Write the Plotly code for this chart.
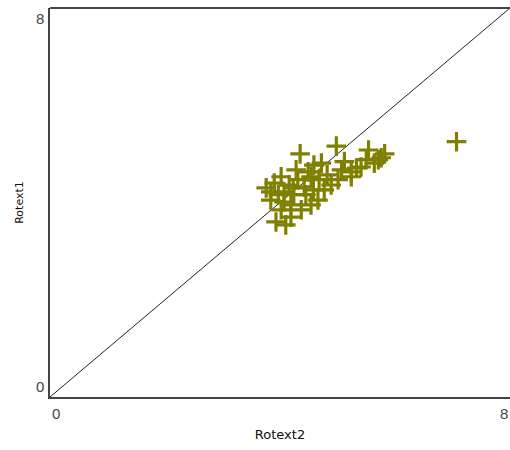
import plotly.graph_objects as go

# Rotext2 (x) vs Rotext1 (y) scores
rotext2 = [7.07, 4.35, 4.98, 5.54, 5.82, 5.71, 5.12, 4.72, 4.59, 5.41, 5.24, 5.01,
           4.89, 4.02, 3.90, 3.84, 4.07, 4.24, 4.42, 4.54, 4.77, 4.66, 4.54, 4.37,
           4.19, 4.02, 3.93, 4.07, 4.31, 4.49, 5.24, 5.64, 5.76, 4.16, 3.97, 3.76,
           4.28, 4.68, 4.82, 5.07, 5.33, 5.50, 4.19, 4.45, 4.10, 3.84, 4.23, 4.58]
rotext1 = [5.25, 5.00, 5.16, 5.08, 5.00, 4.88, 4.84, 4.81, 4.77, 4.73, 4.53, 4.47,
           4.36, 4.53, 4.40, 4.22, 4.22, 4.16, 4.32, 4.53, 4.26, 4.05, 3.95, 3.85,
           3.70, 3.85, 3.60, 4.01, 4.47, 4.63, 4.63, 4.81, 4.92, 4.36, 4.16, 4.30,
           4.67, 4.47, 4.57, 4.67, 4.71, 4.88, 3.95, 4.16, 3.54, 4.05, 4.30, 4.26]

axis_min, axis_max = 0, 8
diagonal = [axis_min, axis_max]

fig = go.Figure()

# identity line
fig.add_trace(go.Scatter(
    x=diagonal, y=diagonal, mode="lines",
    line=dict(color="#222222", width=1), hoverinfo="skip", showlegend=False,
))

fig.add_trace(go.Scatter(
    x=rotext2, y=rotext1, mode="markers",
    marker=dict(symbol="cross-thin", size=14,
                line=dict(color="#808000", width=3.2)),
    showlegend=False,
))

tick_font = dict(family="Liberation Sans, Arial, sans-serif", size=15, color="#444444")
xtitle_font = dict(family="DejaVu Sans, sans-serif", size=13, color="#111111")
ytitle_font = dict(family="DejaVu Sans, sans-serif", size=11, color="#111111")

fig.update_layout(
    width=510, height=450,
    margin=dict(l=50, r=0, t=8, b=53),
    paper_bgcolor="white", plot_bgcolor="white",
    xaxis=dict(range=[axis_min, axis_max], showgrid=False, zeroline=False,
               showticklabels=False, ticks="",
               showline=True, linecolor="#444444", linewidth=2,
               title=dict(text="Rotext2", font=xtitle_font, standoff=32)),
    yaxis=dict(range=[axis_min, axis_max], showgrid=False, zeroline=False,
               showticklabels=False, ticks="",
               showline=True, linecolor="#444444", linewidth=2,
               title=dict(text="Rotext1", font=ytitle_font, standoff=22)),
)

# top border of the frame
fig.add_shape(type="line", xref="paper", yref="paper", x0=0, x1=1, y0=1, y1=1,
              line=dict(color="#444444", width=2))

# end labels sit just inside the axis range
for v, ya in [(axis_min, "bottom"), (axis_max, "top")]:
    fig.add_annotation(x=0, y=v, xref="paper", yref="y", text=str(v),
                       showarrow=False, xanchor="right", yanchor=ya,
                       xshift=-4, font=tick_font)
for v, xa in [(axis_min, "left"), (axis_max, "right")]:
    fig.add_annotation(x=v, y=0, xref="x", yref="paper", text=str(v),
                       showarrow=False, xanchor=xa, yanchor="top",
                       yshift=-6, font=tick_font)

fig.write_html("out.html")
